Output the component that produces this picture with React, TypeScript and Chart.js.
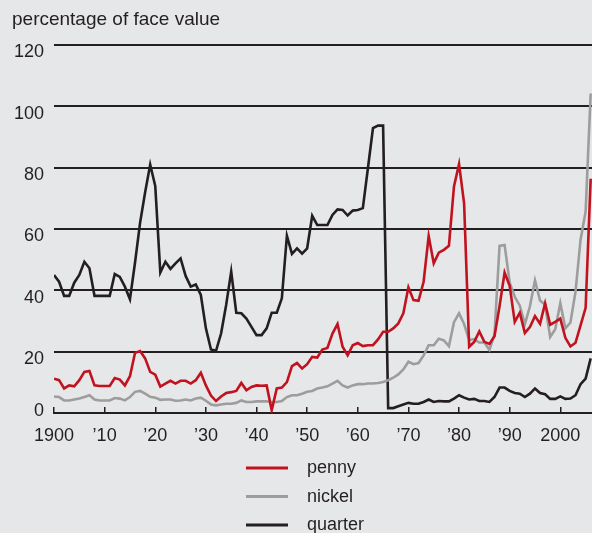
import React, { useEffect, useRef } from 'react';
import { Chart, registerables } from 'chart.js';

Chart.register(...registerables);

const FONT = '"Liberation Sans", Arial, Helvetica, sans-serif';
const INK = '#231f20';

const years: number[] = Array.from({ length: 107 }, (_, i) => 1900 + i);

const penny: number[] = [
  11.2, 10.7, 8, 9, 8.7, 10.7, 13.4, 13.7, 9, 8.8,
  8.8, 8.8, 11.4, 10.9, 9, 12, 19.6, 20.2, 17.8, 13.4,
  12.5, 8.6, 9.6, 10.5, 9.6, 10.5, 10.5, 9.6, 10.7, 13.1,
  9, 5.7, 3.9, 5.4, 6.5, 6.8, 7.2, 9.8, 7.4, 8.5,
  9, 8.9, 9, 0.9, 8, 8.3, 10.1, 15.3, 16.3, 14.5,
  15.9, 18.3, 18.1, 20.7, 21.2, 25.9, 29, 21.6, 18.8, 22.1,
  22.8, 21.8, 22.1, 22.1, 24, 26.5, 26.5, 27.6, 29.2, 32.5,
  41, 36.8, 36.6, 42.8, 57.7, 48.8, 52.3, 53.2, 54.5, 73.9,
  81.2, 68.4, 21.6, 23.2, 26.6, 23.2, 22.5, 25, 34.8, 45.8,
  41.5, 29.7, 32.7, 26.1, 28, 31.6, 29.1, 35.8, 28.8, 29.7,
  30.8, 24.5, 21.7, 22.9, 28.6, 34.3, 76.4,
];

const nickel: number[] = [
  5.4, 5.2, 4.1, 4.1, 4.4, 4.7, 5.2, 5.8, 4.4, 4.1,
  4.1, 4.1, 4.9, 4.7, 4.1, 5.2, 6.9, 7.2, 6.3, 5.3,
  5, 4.3, 4.4, 4.4, 4, 4.1, 4.4, 4.1, 4.7, 5,
  4, 2.8, 2.5, 2.8, 3, 3, 3.3, 4.1, 3.6, 3.6,
  3.8, 3.8, 3.8, 3.6, 3.6, 3.9, 5.2, 5.8, 5.8, 6.3,
  6.9, 7.2, 8, 8.3, 8.7, 9.6, 10.5, 9, 8.3, 9,
  9.4, 9.4, 9.6, 9.6, 9.8, 10.1, 10.7, 11.5, 12.6, 14.2,
  16.7, 15.9, 16.3, 18.8, 22.1, 22.1, 24.2, 23.7, 21.8, 29.6,
  32.5, 29, 23.8, 24.1, 23, 23, 20.6, 25.6, 54.5, 54.8,
  42.5, 37.9, 35, 29, 34.8, 43.2, 36.7, 35.3, 24.8, 27.3,
  35.8, 27.6, 29.5, 39.5, 56.5, 65.7, 104.2,
];

const quarter: number[] = [
  45, 42.8, 38.2, 38.2, 42.5, 45, 49.3, 47.2, 38.2, 38.2,
  38.2, 38.2, 45.3, 44.4, 41.2, 37.1, 49, 62, 72, 81,
  74, 45.8, 49.3, 47, 48.8, 50.4, 44.7, 41.2, 41.9, 38.5,
  27.6, 20.7, 20.3, 25.9, 35.2, 46.1, 32.7, 32.5, 30.8, 28.1,
  25.4, 25.4, 27.6, 32.7, 32.7, 37.4, 57.8, 51.9, 53.7, 52,
  53.7, 64.3, 61.3, 61.3, 61.3, 64.6, 66.4, 66.2, 64.4, 66,
  66.2, 66.8, 79.8, 92.9, 93.7, 93.7, 1.6, 1.6, 2.2, 2.8,
  3.3, 3, 3, 3.6, 4.4, 3.6, 3.9, 3.8, 3.8, 4.7,
  5.8, 5, 4.4, 4.6, 3.9, 3.9, 3.6, 5.2, 8.3, 8.3,
  7.2, 6.5, 6.3, 5.2, 6.3, 8, 6.5, 6.1, 4.6, 4.6,
  5.4, 4.6, 4.7, 5.8, 9.4, 11.2, 17.8,
];

const seriesNames: string[] = ['penny', 'nickel', 'quarter'];
const seriesColors: string[] = ['#c0121f', '#9d9d9d', INK];

const xTickValues: number[] = [1900, 1910, 1920, 1930, 1940, 1950, 1960, 1970, 1980, 1990, 2000];
const xTickLabels: string[] = ['1900', '\u201910', '\u201920', '\u201930', '\u201940', '\u201950', '\u201960', '\u201970', '\u201980', '\u201990', '2000'];
const yTickValues: number[] = [0, 20, 40, 60, 80, 100, 120];

const stackedLegend = {
  id: 'stackedLegend',
  afterDraw(chart: any, _args: any, opts: any) {
    const { ctx } = chart;
    chart.data.datasets.forEach((ds: any, i: number) => {
      const y = opts.top + i * opts.rowGap;
      ctx.save();
      ctx.strokeStyle = ds.borderColor;
      ctx.lineWidth = opts.lineWidth;
      ctx.beginPath();
      ctx.moveTo(opts.lineX0, y);
      ctx.lineTo(opts.lineX1, y);
      ctx.stroke();
      ctx.fillStyle = opts.color;
      ctx.font = opts.font;
      ctx.textBaseline = 'alphabetic';
      ctx.textAlign = 'left';
      ctx.fillText(ds.label, opts.textX, y + opts.baselineShift);
      ctx.restore();
    });
  },
};

export default function App() {
  const canvasRef = useRef<HTMLCanvasElement | null>(null);

  useEffect(() => {
    document.body.style.margin = '0';
    document.body.style.background = '#e6e7e8';
    const canvas = canvasRef.current;
    if (!canvas) return;
    const data = [penny, nickel, quarter];
    const chart = new Chart(canvas, {
      type: 'line',
      data: {
        labels: years,
        datasets: seriesNames.map((name, i) => ({
          label: name,
          data: data[i],
          borderColor: seriesColors[i],
          backgroundColor: seriesColors[i],
          borderWidth: 2.6,
          pointRadius: 0,
          tension: 0,
          fill: false,
        })),
      },
      options: {
        responsive: false,
        animation: false,
        devicePixelRatio: 1,
        events: [],
        layout: { padding: { left: 12, right: 0, top: 0, bottom: 0 } },
        scales: {
          x: {
            type: 'linear',
            min: 1900,
            max: 2006.26,
            afterFit: (scale: any) => {
              scale.height = 120;
              scale.paddingLeft = 0;
              scale.paddingRight = 0;
            },
            afterBuildTicks: (scale: any) => {
              scale.ticks = xTickValues.map((v) => ({ value: v }));
            },
            ticks: {
              autoSkip: false,
              maxRotation: 0,
              includeBounds: false,
              padding: 18,
              color: INK,
              font: { family: FONT, size: 18 },
              callback: (v: any) => {
                const idx = xTickValues.indexOf(Number(v));
                return idx >= 0 ? xTickLabels[idx] : '';
              },
            },
            grid: {
              drawOnChartArea: false,
              drawTicks: true,
              tickLength: -6,
              color: INK,
              lineWidth: 1.5,
            },
            border: { display: true, color: INK, width: 2 },
          },
          y: {
            min: 0,
            max: 120,
            afterFit: (scale: any) => {
              scale.width = 42;
              scale.paddingTop = 0;
              scale.paddingBottom = 0;
            },
            afterBuildTicks: (scale: any) => {
              scale.ticks = yTickValues.map((v) => ({ value: v }));
            },
            ticks: {
              padding: 10,
              labelOffset: 7.5,
              color: INK,
              font: (ctx: any) => ({
                family: FONT,
                size: 18,
                lineHeight: ctx.tick && ctx.tick.value === 0 ? 1.02 : 1.2,
              }),
              callback: (v: any) => (Number(v) === 0 ? ['0', ''] : String(v)),
            },
            grid: {
              color: INK,
              lineWidth: 2,
              drawTicks: false,
            },
            border: { display: false },
          },
        },
        plugins: {
          legend: { display: false },
          tooltip: { enabled: false },
          title: {
            display: true,
            text: 'percentage of face value',
            align: 'start',
            color: INK,
            font: { family: FONT, size: 19, weight: 'normal' },
            padding: { top: 8, bottom: 14.2 },
          },
          stackedLegend: {
            top: 468,
            rowGap: 28.5,
            lineX0: 246,
            lineX1: 288,
            lineWidth: 3,
            textX: 307,
            baselineShift: 5,
            color: INK,
            font: `18px ${FONT}`,
          },
        } as any,
      },
      plugins: [stackedLegend],
    });
    return () => chart.destroy();
  }, []);

  return (
    <div style={{ position: 'absolute', left: 0, top: 0, width: 592, height: 533, background: '#e6e7e8' }}>
      <canvas ref={canvasRef} width={592} height={533} style={{ display: 'block', width: 592, height: 533 }} />
    </div>
  );
}
